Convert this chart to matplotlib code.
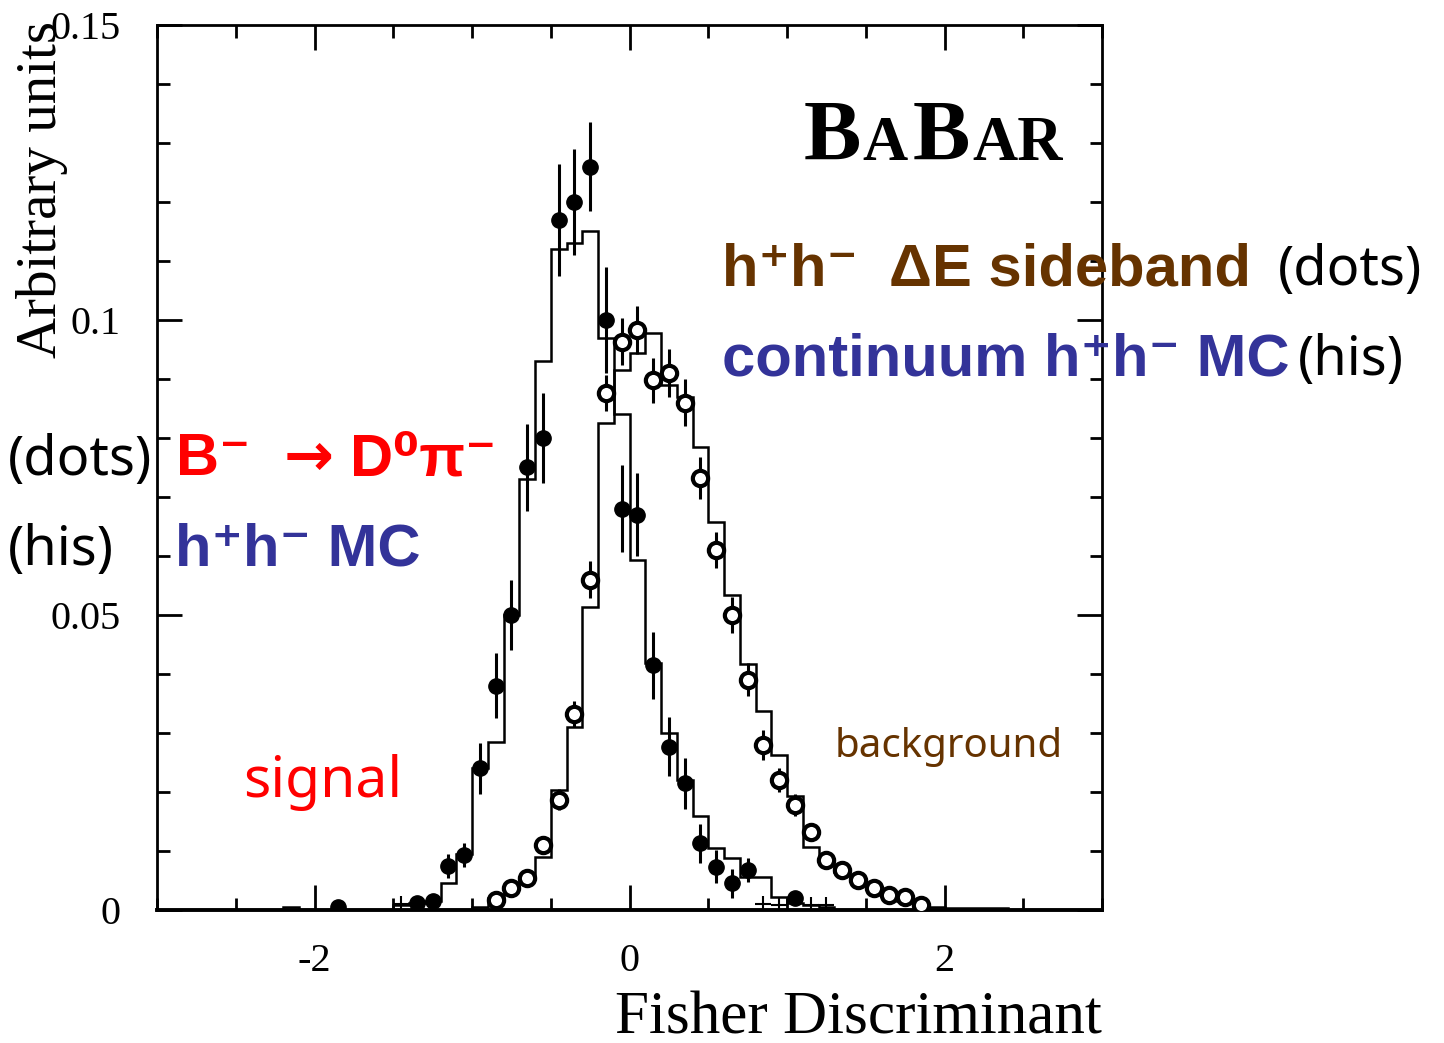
import numpy as np
import matplotlib
matplotlib.use('Agg')
import matplotlib.pyplot as plt
from matplotlib.ticker import MultipleLocator, FixedLocator

# ---- data ----
bin_width = 0.1

# signal MC histogram (h+h- MC), bins start at -2.2
sig_mc_start = -2.2
sig_mc = [0.0005, 0, 0, 0, 0, 0, 0, 0.0008, 0.0012, 0.0015,
          0.0046, 0.0095, 0.024, 0.0285, 0.050, 0.073, 0.093, 0.112, 0.113, 0.115,
          0.097, 0.084, 0.0593, 0.0419, 0.030, 0.022, 0.016, 0.0105, 0.0088, 0.0056,
          0.0056, 0.0022, 0.0012, 0.0008, 0.0005]

# continuum background MC histogram, bins start at -1.0
bkg_mc_start = -1.0
bkg_mc = [0.0005, 0.002, 0.0037, 0.0055, 0.009, 0.0203, 0.031, 0.0514, 0.0825, 0.0915,
          0.0944, 0.0978, 0.089, 0.087, 0.0785, 0.0657, 0.0534, 0.0417, 0.0338, 0.0263,
          0.0193, 0.0106, 0.008, 0.0065, 0.005, 0.0035, 0.0025, 0.0015, 0.001, 0.0005,
          0.0004, 0.0004, 0.0004, 0.0004]

# B- -> D0 pi- (filled dots)
sig_x = [-1.85, -1.35, -1.25, -1.15, -1.05, -0.95, -0.85, -0.75, -0.65, -0.55, -0.45, -0.35,
         -0.25, -0.15, -0.05, 0.05, 0.15, 0.25, 0.35, 0.45, 0.55, 0.65, 0.75, 1.05]
sig_y = [0.0005, 0.0012, 0.0015, 0.0075, 0.0093, 0.024, 0.038, 0.050, 0.075, 0.080, 0.117, 0.120,
         0.126, 0.100, 0.068, 0.067, 0.0415, 0.0277, 0.0215, 0.0113, 0.0073, 0.0045, 0.0068, 0.002]
sig_err = [0.0003, 0.0008, 0.001, 0.002, 0.002, 0.0043, 0.0055, 0.006, 0.0074, 0.0076, 0.0095, 0.009,
           0.0075, 0.009, 0.0074, 0.007, 0.0057, 0.005, 0.0043, 0.0033, 0.0028, 0.0025, 0.002, 0.001]

# h+h- Delta E sideband (open dots)
bkg_x = [-0.85, -0.75, -0.65, -0.55, -0.45, -0.35, -0.25, -0.15, -0.05, 0.05, 0.15, 0.25, 0.35, 0.45,
         0.55, 0.65, 0.75, 0.85, 0.95, 1.05, 1.15, 1.25, 1.35, 1.45, 1.55, 1.65, 1.75, 1.85]
bkg_y = [0.0017, 0.0037, 0.0054, 0.011, 0.0187, 0.0332, 0.056, 0.0876, 0.0963, 0.0983, 0.0898, 0.091,
         0.086, 0.0732, 0.061, 0.050, 0.039, 0.028, 0.022, 0.0178, 0.0132, 0.0085, 0.0068, 0.0051,
         0.0037, 0.0025, 0.0022, 0.0008]
bkg_err = [0.0007, 0.001, 0.0012, 0.0015, 0.0018, 0.0022, 0.0032, 0.003, 0.004, 0.004, 0.0038, 0.004,
           0.004, 0.0036, 0.003, 0.003, 0.0028, 0.0025, 0.002, 0.0018, 0.0015, 0.0012, 0.001, 0.001,
           0.0008, 0.0007, 0.0007, 0.0005]

# empty-ish bins drawn as crosses
cross_x = [-1.45, 0.85, 0.95, 1.15, 1.25]
cross_y = [0.001, 0.001, 0.0008, 0.0008, 0.0008]

ytick_vals = [0, 0.05, 0.1, 0.15]
ytick_labels = ['0', '0.05', '0.1', '0.15']
xtick_vals = [-2, 0, 2]
xtick_labels = ['-2', '0', '2']

W, H = 1444, 1043
serif = 'Liberation Serif'
sans = ['Noto Sans', 'DejaVu Sans']
sans_bold = ['Liberation Sans', 'DejaVu Sans']

fig = plt.figure(figsize=(W / 100, H / 100), dpi=100)
ax = fig.add_axes([157 / W, 1 - 910 / H, (1102 - 157) / W, (910 - 25) / H])

def edges(start, vals):
    return start + bin_width * np.arange(len(vals) + 1)

ax.stairs(sig_mc, edges(sig_mc_start, sig_mc), color='k', lw=1.8)
ax.stairs(bkg_mc, edges(bkg_mc_start, bkg_mc), color='k', lw=1.8)

ax.errorbar(sig_x, sig_y, yerr=sig_err, fmt='o', color='k', ms=11, elinewidth=2.2, capsize=0, zorder=4)
ax.errorbar(bkg_x, bkg_y, yerr=bkg_err, fmt='o', color='k', mfc='white', mec='k', mew=3,
            ms=11, elinewidth=2.2, capsize=0, zorder=4)
ax.plot(cross_x, cross_y, '+', color='k', ms=12, mew=1.5)

ax.set_xlim(-3, 3)
ax.set_ylim(0, 0.15)
ax.xaxis.set_major_locator(FixedLocator(xtick_vals))
ax.set_xticklabels(xtick_labels)
ax.xaxis.set_minor_locator(MultipleLocator(0.5))
ax.yaxis.set_major_locator(FixedLocator(ytick_vals))
ax.set_yticklabels(ytick_labels)
ax.yaxis.set_minor_locator(MultipleLocator(0.01))
ax.tick_params(which='both', direction='in', top=True, right=True, width=2, color='k')
ax.tick_params(which='major', length=18)
ax.tick_params(which='minor', length=9)
ax.tick_params(axis='y', which='major', pad=26)
ax.tick_params(axis='x', which='major', pad=24)
for lab in ax.get_xticklabels() + ax.get_yticklabels():
    lab.set_fontfamily(serif)
    lab.set_fontsize(29)
for s in ax.spines.values():
    s.set_linewidth(2)
ax.spines['bottom'].set_linewidth(2.8)

def px(x, y):
    return x / W, 1 - y / H

# axis titles
fig.text(*px(42, 190), 'Arbitrary units', rotation=90, ha='center', va='center',
         family=serif, fontsize=41)
fig.text(*px(1102, 1034), 'Fisher Discriminant', ha='right', va='baseline',
         family=serif, fontsize=44)

# BaBar logo (small caps)
logo = [('B', 804, 62), ('A', 862, 45), ('B', 913, 62), ('AR', 972, 45)]
for ch, x0, fs in logo:
    fig.text(*px(x0, 160), ch, ha='left', va='baseline', family=serif,
             fontweight='bold', fontsize=fs)

brown = '#663300'
blue = '#333399'
red = '#ff0000'

fig.text(*px(722, 285), 'h⁺h⁻  ΔE sideband', color=brown, fontweight='bold',
         family=sans_bold, fontsize=43, ha='left', va='baseline')
fig.text(*px(1278, 285), '(dots)', color='k', family=sans, fontsize=39, ha='left', va='baseline')
fig.text(*px(722, 375), 'continuum h⁺h⁻ MC', color=blue, fontweight='bold',
         family=sans_bold, fontsize=43, ha='left', va='baseline')
fig.text(*px(1298, 375), '(his)', color='k', family=sans, fontsize=39, ha='left', va='baseline')

fig.text(*px(8, 475), '(dots)', color='k', family=sans, fontsize=39, ha='left', va='baseline')
fig.text(*px(176, 475), 'B⁻', color=red, fontweight='bold',
         family=sans_bold, fontsize=43, ha='left', va='baseline')
fig.text(*px(284, 475), '→', color=red, fontweight='bold',
         family='DejaVu Sans', fontsize=43, ha='left', va='baseline')
fig.text(*px(350, 475), 'D⁰π⁻', color=red, fontweight='bold',
         family=sans_bold, fontsize=43, ha='left', va='baseline')
fig.text(*px(8, 565), '(his)', color='k', family=sans, fontsize=39, ha='left', va='baseline')
fig.text(*px(175, 565), 'h⁺h⁻ MC', color=blue, fontweight='bold',
         family=sans_bold, fontsize=43, ha='left', va='baseline')

fig.text(*px(243, 797), 'signal', color=red, family=sans, fontsize=41, ha='left', va='baseline')
fig.text(*px(835, 757), 'background', color=brown, family=sans, fontsize=29, ha='left', va='baseline')

fig.savefig('out.png', dpi=100)
